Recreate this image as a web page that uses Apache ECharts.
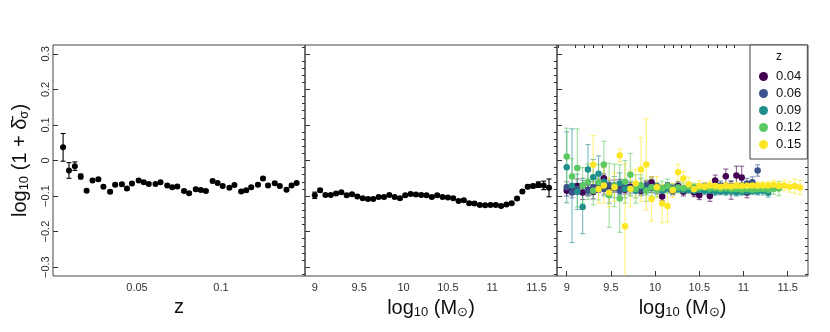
<!DOCTYPE html>
<html>
<head>
<meta charset="utf-8">
<script src="https://cdn.jsdelivr.net/npm/echarts@6/dist/echarts.min.js"></script>
<style>
  html, body { margin: 0; padding: 0; background: #fff; }
  #main { width: 830px; height: 332px; }
</style>
</head>
<body>
<div id="main"></div>
<script>
// panel 1: overdensity vs redshift
var zBins = [0.006,0.0095,0.013,0.0165,0.020,0.0235,0.027,0.030,0.034,0.037,0.041,0.044,0.047,0.051,0.054,0.057,0.061,0.064,0.068,0.071,0.074,0.078,0.081,0.085,0.088,0.091,0.095,0.098,0.101,0.105,0.108,0.112,0.115,0.118,0.122,0.125,0.128,0.132,0.135,0.139,0.142,0.145];
var deltaByZ = [0.037,-0.028,-0.016,-0.045,-0.085,-0.056,-0.053,-0.074,-0.088,-0.068,-0.067,-0.079,-0.065,-0.056,-0.061,-0.066,-0.066,-0.061,-0.070,-0.075,-0.073,-0.086,-0.092,-0.081,-0.083,-0.086,-0.058,-0.063,-0.072,-0.077,-0.069,-0.087,-0.084,-0.075,-0.068,-0.051,-0.070,-0.064,-0.072,-0.082,-0.070,-0.063];
var deltaByZErr = [0.039,0.022,0.012,0.007,0.004,0.004,0.004,0.004,0.004,0.004,0.004,0.004,0.004,0.004,0.004,0.004,0.004,0.004,0.004,0.004,0.004,0.004,0.004,0.004,0.004,0.004,0.004,0.004,0.004,0.004,0.004,0.004,0.004,0.004,0.004,0.004,0.004,0.004,0.004,0.004,0.004,0.004];

// panel 2: overdensity vs stellar mass (all z)
var massBins = [9.00,9.06,9.12,9.18,9.24,9.30,9.36,9.42,9.48,9.54,9.60,9.66,9.72,9.78,9.84,9.90,9.96,10.02,10.08,10.14,10.20,10.26,10.32,10.38,10.44,10.50,10.56,10.62,10.68,10.74,10.80,10.86,10.92,10.98,11.04,11.10,11.16,11.22,11.28,11.34,11.40,11.46,11.52,11.58,11.64];
var deltaByM = [-0.098,-0.084,-0.097,-0.097,-0.093,-0.089,-0.098,-0.095,-0.101,-0.106,-0.108,-0.108,-0.103,-0.103,-0.097,-0.103,-0.106,-0.098,-0.094,-0.096,-0.097,-0.098,-0.103,-0.098,-0.103,-0.104,-0.106,-0.114,-0.112,-0.120,-0.121,-0.125,-0.126,-0.125,-0.125,-0.128,-0.124,-0.120,-0.107,-0.087,-0.074,-0.072,-0.068,-0.070,-0.077];
var deltaByMErr = [0.009,0.005,0.004,0.004,0.004,0.004,0.004,0.004,0.004,0.004,0.004,0.004,0.004,0.004,0.004,0.004,0.004,0.004,0.004,0.004,0.004,0.004,0.004,0.004,0.004,0.004,0.004,0.004,0.004,0.004,0.004,0.004,0.004,0.004,0.004,0.004,0.004,0.004,0.004,0.005,0.005,0.005,0.008,0.012,0.025];

// panel 3: overdensity vs stellar mass, split by redshift
var zLabels = ['0.04', '0.06', '0.09', '0.12', '0.15'];
var zColors = ['#440154', '#3b528b', '#21908d', '#5dc963', '#fde725'];
var delta04 = [-0.085,-0.080,-0.072,-0.090,-0.083,-0.088,-0.075,-0.050,-0.078,-0.070,-0.068,-0.082,-0.074,-0.079,-0.085,-0.070,-0.061,-0.080,-0.101,-0.075,-0.085,-0.072,-0.088,-0.078,-0.090,-0.098,-0.075,-0.100,-0.056,-0.080,-0.044,-0.084,-0.042,-0.048,-0.090,null,null,null,null,null,null,null,null,null,null];
var err04 = [0.015,0.015,0.02,0.02,0.015,0.02,0.015,0.012,0.015,0.015,0.015,0.012,0.012,0.012,0.012,0.012,0.015,0.012,0.012,0.012,0.012,0.012,0.012,0.012,0.012,0.012,0.012,0.015,0.015,0.015,0.02,0.025,0.026,0.032,0.015,null,null,null,null,null,null,null,null,null,null];
var delta06 = [-0.075,-0.090,-0.080,-0.070,-0.085,-0.075,-0.065,-0.080,-0.070,-0.078,-0.085,-0.072,-0.080,-0.076,-0.082,-0.070,-0.078,-0.074,-0.080,-0.072,-0.078,-0.075,-0.080,-0.074,-0.078,-0.076,-0.080,-0.078,-0.075,-0.070,-0.078,-0.072,-0.080,-0.070,-0.065,-0.061,-0.028,null,null,null,null,null,null,null,null];
var err06 = [0.015,0.015,0.015,0.02,0.015,0.015,0.015,0.015,0.015,0.012,0.012,0.012,0.012,0.012,0.012,0.012,0.012,0.01,0.01,0.01,0.01,0.01,0.01,0.01,0.01,0.01,0.01,0.01,0.012,0.012,0.012,0.015,0.015,0.015,0.015,0.015,0.016,null,null,null,null,null,null,null,null];
var delta09 = [-0.019,-0.071,-0.088,-0.131,-0.025,-0.047,-0.037,-0.060,-0.090,-0.075,-0.065,-0.080,-0.078,-0.085,-0.070,-0.082,-0.076,-0.080,-0.085,-0.078,-0.082,-0.080,-0.084,-0.082,-0.085,-0.083,-0.086,-0.085,-0.088,-0.086,-0.088,-0.087,-0.090,-0.088,-0.087,-0.086,-0.087,-0.085,-0.091,null,null,null,null,null,null];
var err09 = [0.10,0.16,0.05,0.075,0.07,0.05,0.05,0.04,0.03,0.03,0.03,0.025,0.02,0.02,0.02,0.015,0.015,0.015,0.012,0.012,0.012,0.01,0.01,0.01,0.01,0.01,0.01,0.01,0.01,0.01,0.01,0.01,0.01,0.01,0.01,0.01,0.01,0.012,0.012,null,null,null,null,null,null];
var delta12 = [0.011,-0.045,-0.021,-0.070,-0.060,-0.085,-0.061,-0.011,-0.098,-0.070,-0.107,-0.060,-0.040,-0.080,-0.070,-0.085,-0.075,-0.082,-0.078,-0.072,-0.080,-0.076,-0.078,-0.074,-0.076,-0.078,-0.076,-0.079,-0.078,-0.080,-0.079,-0.081,-0.080,-0.082,-0.080,-0.082,-0.081,-0.080,-0.082,-0.080,-0.079,null,null,null,null];
var err12 = [0.08,0.05,0.11,0.05,0.05,0.04,0.05,0.065,0.09,0.06,0.095,0.06,0.06,0.04,0.03,0.03,0.025,0.02,0.02,0.02,0.015,0.015,0.015,0.012,0.012,0.012,0.01,0.01,0.01,0.01,0.01,0.01,0.01,0.01,0.01,0.01,0.01,0.012,0.012,0.015,0.02,null,null,null,null];
var delta15 = [null,null,null,null,null,-0.012,-0.080,-0.070,-0.090,-0.075,0.014,-0.185,-0.080,-0.065,-0.025,-0.011,-0.108,-0.075,-0.121,-0.128,-0.084,-0.033,-0.051,-0.067,-0.081,-0.072,-0.074,-0.070,-0.072,-0.074,-0.072,-0.073,-0.071,-0.072,-0.071,-0.070,-0.071,-0.070,-0.070,-0.068,-0.072,-0.070,-0.074,-0.072,-0.076];
var err15 = [null,null,null,null,null,0.082,0.04,0.05,0.04,0.04,0.018,0.175,0.05,0.04,0.09,0.128,0.062,0.03,0.054,0.045,0.02,0.022,0.02,0.02,0.015,0.015,0.012,0.012,0.012,0.01,0.01,0.01,0.01,0.01,0.01,0.01,0.01,0.01,0.01,0.012,0.012,0.015,0.015,0.02,0.02];
var deltaSplit = [delta04, delta06, delta09, delta12, delta15];
var errSplit = [err04, err06, err09, err12, err15];

// axis ticks
var yMajor = [-0.3, -0.2, -0.1, 0, 0.1, 0.2, 0.3];
var zTicks = [0.05, 0.1];
var massTicks = [9, 9.5, 10, 10.5, 11, 11.5];

var yMinor = [];
for (var k = -16; k <= 16; k++) {
    if (k % 5 !== 0) yMinor.push(k * 0.02);
}
var massMinor = [];
for (var m = 89; m <= 117; m++) {
    if (m % 5 !== 0) massMinor.push(m / 10);
}

function points(xs, ys) {
    var out = [];
    for (var i = 0; i < xs.length; i++) {
        if (ys[i] != null) out.push([xs[i], ys[i]]);
    }
    return out;
}

function bars(xs, ys, es) {
    var out = [];
    for (var i = 0; i < xs.length; i++) {
        if (ys[i] != null) out.push([xs[i], ys[i], es[i]]);
    }
    return out;
}

function errorBarSeries(name, data, xi, yi, color, opacity) {
    return {
        type: 'custom',
        name: name + '_err',
        xAxisIndex: xi,
        yAxisIndex: yi,
        clip: true,
        silent: true,
        data: data,
        renderItem: function (params, api) {
            var x = api.value(0), y = api.value(1), e = api.value(2);
            var hi = api.coord([x, y + e]);
            var lo = api.coord([x, y - e]);
            var cap = 2.5;
            var style = { stroke: color, lineWidth: 1.1, opacity: opacity };
            return {
                type: 'group',
                children: [
                    { type: 'line', shape: { x1: hi[0], y1: hi[1], x2: lo[0], y2: lo[1] }, style: style },
                    { type: 'line', shape: { x1: hi[0] - cap, y1: hi[1], x2: hi[0] + cap, y2: hi[1] }, style: style },
                    { type: 'line', shape: { x1: lo[0] - cap, y1: lo[1], x2: lo[0] + cap, y2: lo[1] }, style: style }
                ]
            };
        }
    };
}

function dotSeries(name, data, xi, yi, color, size) {
    return {
        type: 'scatter',
        name: name,
        xAxisIndex: xi,
        yAxisIndex: yi,
        symbolSize: size,
        itemStyle: { color: color, opacity: 1 },
        silent: true,
        data: data
    };
}

var axisColor = '#333';
var titleStyle = {
    fontFamily: 'Liberation Sans',
    fontSize: 20,
    color: '#111',
    rich: {
        s: { fontFamily: 'Liberation Sans', fontSize: 13, color: '#111', padding: [9, 0, 0, 0] },
        t: { fontFamily: 'Liberation Sans', fontSize: 20, color: '#111' }
    }
};

function yAxes(gridIndex, withLabels) {
    var major = {
        type: 'value',
        gridIndex: gridIndex,
        min: -0.325,
        max: 0.325,
        axisLine: { show: false, onZero: false },
        splitLine: { show: false },
        axisTick: { show: true, inside: true, length: 5, customValues: yMajor, lineStyle: { color: axisColor } },
        axisLabel: {
            show: withLabels,
            customValues: yMajor,
            rotate: 90,
            margin: 2,
            fontFamily: 'Liberation Sans',
            fontSize: 11,
            color: '#333',
            formatter: function (v) { return String(Math.round(v * 10) / 10).replace('-', '\u2212'); }
        }
    };
    if (withLabels) {
        major.name = '{t|log}{s|10}{t| (1 + \u03b4\u0304}{s|\u03c3}{t|)}';
        major.nameLocation = 'middle';
        major.nameRotate = 90;
        major.nameGap = 22;
        major.nameTextStyle = titleStyle;
    }
    var minor = {
        type: 'value',
        gridIndex: gridIndex,
        min: -0.325,
        max: 0.325,
        axisLine: { show: false, onZero: false },
        splitLine: { show: false },
        axisLabel: { show: false },
        axisTick: { show: true, inside: true, length: 3, customValues: yMinor, lineStyle: { color: axisColor } }
    };
    return [major, minor];
}

function massAxes(gridIndex, withTicks) {
    var major = {
        type: 'value',
        gridIndex: gridIndex,
        min: 8.89,
        max: 11.73,
        axisLine: { show: false, onZero: false },
        splitLine: { show: false },
        axisTick: { show: withTicks, inside: true, length: 5, customValues: massTicks, lineStyle: { color: axisColor } },
        axisLabel: { customValues: massTicks, margin: 6, fontFamily: 'Liberation Sans', fontSize: 11, color: '#333' },
        name: '{t|log}{s|10}{t| (M}{s|\u2299}{t|)}',
        nameLocation: 'middle',
        nameGap: 21,
        nameTextStyle: titleStyle
    };
    var minor = {
        type: 'value',
        gridIndex: gridIndex,
        min: 8.89,
        max: 11.73,
        axisLine: { show: false, onZero: false },
        splitLine: { show: false },
        axisLabel: { show: false },
        axisTick: { show: withTicks, inside: true, length: 3, customValues: massMinor, lineStyle: { color: axisColor } }
    };
    return [major, minor];
}

var gridBox = { show: true, borderColor: '#444', borderWidth: 1, backgroundColor: 'transparent' };

var chart = echarts.init(document.getElementById('main'), null, { renderer: 'canvas' });

var series = [
    errorBarSeries('z', bars(zBins, deltaByZ, deltaByZErr), 0, 0, '#000', 1),
    dotSeries('byZ', points(zBins, deltaByZ), 0, 0, '#000', 6),
    errorBarSeries('m', bars(massBins, deltaByM, deltaByMErr), 2, 2, '#000', 1),
    dotSeries('byM', points(massBins, deltaByM), 2, 2, '#000', 6)
];
for (var s = 0; s < zLabels.length; s++) {
    series.push(errorBarSeries(zLabels[s], bars(massBins, deltaSplit[s], errSplit[s]), 4, 4, zColors[s], 0.6));
    series.push(dotSeries(zLabels[s], points(massBins, deltaSplit[s]), 4, 4, zColors[s], 6.5));
}

var option = {
    animation: false,
    backgroundColor: '#fff',
    grid: [
        Object.assign({ left: 53, top: 45, width: 252, height: 231 }, gridBox),
        Object.assign({ left: 305, top: 45, width: 252, height: 231 }, gridBox),
        Object.assign({ left: 557, top: 45, width: 251, height: 231 }, gridBox)
    ],
    xAxis: [
        {
            type: 'value', gridIndex: 0, min: 0, max: 0.15,
            axisLine: { show: false, onZero: false }, splitLine: { show: false },
            axisTick: { show: false },
            axisLabel: { customValues: zTicks, margin: 6, fontFamily: 'Liberation Sans', fontSize: 11, color: '#333' },
            name: 'z', nameLocation: 'middle', nameGap: 21, nameTextStyle: titleStyle
        },
        { type: 'value', gridIndex: 0, min: 0, max: 0.15, show: false },
        massAxes(1, false)[0],
        massAxes(1, false)[1],
        massAxes(2, true)[0],
        massAxes(2, true)[1]
    ],
    yAxis: [].concat(yAxes(0, true), yAxes(1, false), yAxes(2, false)),
    legend: {
        data: zLabels,
        orient: 'vertical',
        left: 750,
        top: 45,
        padding: [25, 6, 8, 9],
        itemGap: 4,
        itemWidth: 9,
        itemHeight: 9,
        icon: 'circle',
        borderColor: '#444',
        borderWidth: 1,
        borderRadius: 0,
        backgroundColor: '#fff',
        selectedMode: false,
        textStyle: { fontFamily: 'Liberation Sans', fontSize: 13, color: '#111', lineHeight: 13, padding: [0, 0, 0, 3] }
    },
    graphic: [
        { type: 'text', left: 776, top: 51, z: 100, style: { text: 'z', fontFamily: 'Liberation Sans', fontSize: 12, fill: '#111' } }
    ],
    series: series
};

chart.setOption(option);
</script>
</body>
</html>
